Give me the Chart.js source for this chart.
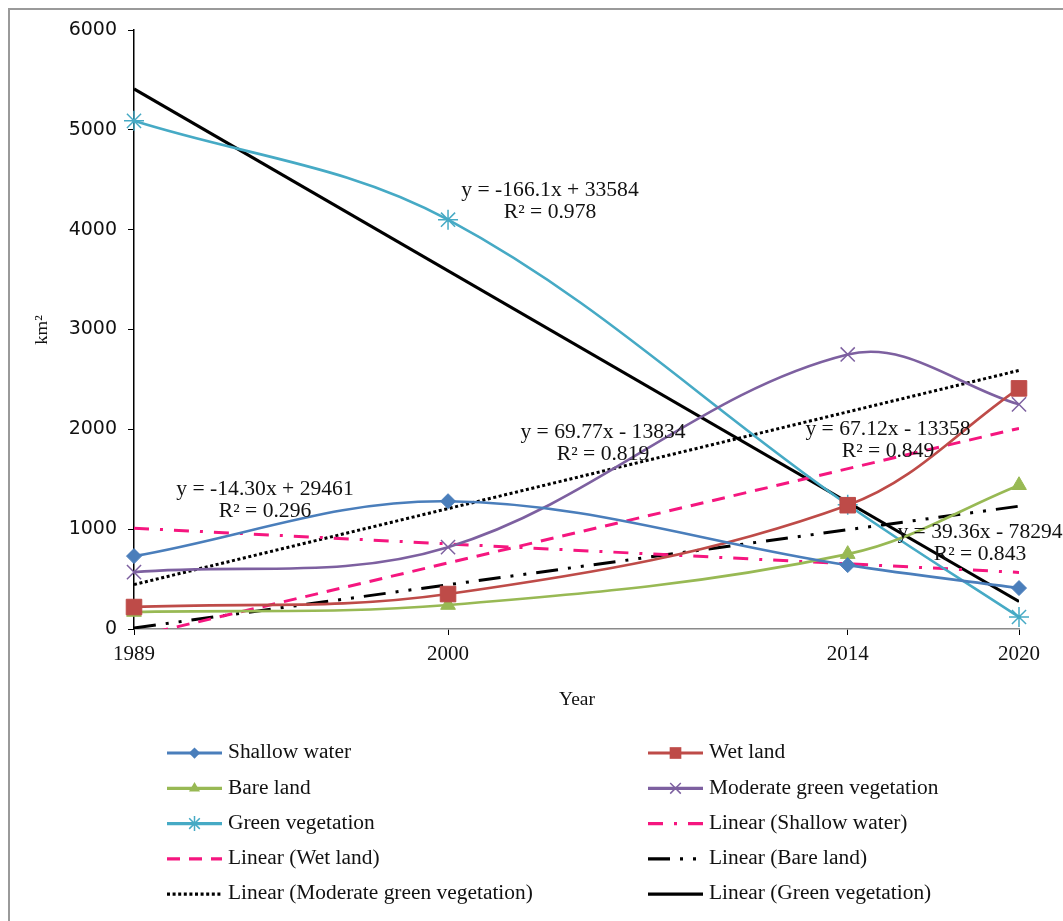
<!DOCTYPE html>
<html>
<head>
<meta charset="utf-8">
<script src="https://cdn.jsdelivr.net/npm/chart.js"></script>
<style>
html,body{margin:0;padding:0;background:#fff;}
#wrap{width:1063px;height:921px;position:relative;}
</style>
</head>
<body>
<div id="wrap"><canvas id="c" width="1063" height="921"></canvas></div>
<script>
// ---- data ----
const years = [1989, 2000, 2014, 2020];
const yTicks = [0, 1000, 2000, 3000, 4000, 5000, 6000];
const shallowWater = [730, 1280, 640, 410];
const wetLand = [220, 350, 1240, 2410];
const bareLand = [170, 240, 750, 1440];
const moderateGreen = [570, 820, 2750, 2250];
const greenVeg = [5090, 4100, 1245, 120];
const trendYears = [1989, 2020];
const linShallow = [1010, 567];
const linWet = [-80, 2010];
const linBare = [10, 1230];
const linModerate = [445, 2590];
const linGreen = [5410, 275];
const equations = [
  ["y = -166.1x + 33584", "R² = 0.978"],
  ["y = -14.30x + 29461", "R² = 0.296"],
  ["y = 69.77x - 13834", "R² = 0.819"],
  ["y = 67.12x - 13358", "R² = 0.849"],
  ["y = 39.36x - 78294", "R² = 0.843"]
];
const eqPos = [[550, 191], [265, 490], [603, 433], [888, 430], [980, 533]];

const toXY = (xs, ys) => xs.map((x, i) => ({x: x, y: ys[i]}));

const C = {
  sw: '#4a7ebb', wl: '#be4b48', bl: '#98b954', mg: '#7d60a0', gv: '#46aac5',
  pink: '#f5167f', black: '#000000'
};

function series(label, ys, color, style, r, bw) {
  return {label, data: toXY(years, ys), borderColor: color, backgroundColor: color,
    borderWidth: 2.6, tension: 0.36, pointStyle: style, pointRadius: r, pointHoverRadius: r,
    pointBorderWidth: bw, pointBackgroundColor: color, pointBorderColor: color, fill: false,
    clip: false, legendR: r * 0.75};
}
function trend(label, ys, color, dash) {
  return {label, data: toXY(trendYears, ys), borderColor: color, backgroundColor: color,
    borderWidth: 3, borderDash: dash, pointRadius: 0, tension: 0, fill: false};
}

const datasets = [
  series('Shallow water', shallowWater, C.sw, 'rectRot', 7.5, 1),
  series('Wet land', wetLand, C.wl, 'rect', 11, 1),
  series('Bare land', bareLand, C.bl, 'triangle', 8.5, 1),
  series('Moderate green vegetation', moderateGreen, C.mg, 'crossRot', 10, 1.5),
  series('Green vegetation', greenVeg, C.gv, 'star', 10, 1.5),
  trend('Linear (Shallow water)', linShallow, C.pink, [15, 11, 3, 11]),
  trend('Linear (Wet land)', linWet, C.pink, [13, 9]),
  trend('Linear (Bare land)', linBare, C.black, [22, 10, 3, 10, 3, 10]),
  trend('Linear (Moderate green vegetation)', linModerate, C.black, [3, 2.6]),
  trend('Linear (Green vegetation)', linGreen, C.black, [])
];

function drawMarker(ctx, style, x, y, r, color, bw) {
  ctx.save();
  ctx.fillStyle = color; ctx.strokeStyle = color; ctx.lineWidth = bw; ctx.setLineDash([]);
  ctx.beginPath();
  if (style === 'rectRot') {
    ctx.moveTo(x, y - r); ctx.lineTo(x + r, y); ctx.lineTo(x, y + r); ctx.lineTo(x - r, y); ctx.closePath(); ctx.fill();
  } else if (style === 'rect') {
    const s = r * Math.SQRT1_2; ctx.rect(x - s, y - s, 2 * s, 2 * s); ctx.fill();
  } else if (style === 'triangle') {
    const w = r * 0.87;
    ctx.moveTo(x, y - r); ctx.lineTo(x + w, y + r * 0.5); ctx.lineTo(x - w, y + r * 0.5); ctx.closePath(); ctx.fill();
  } else if (style === 'crossRot') {
    const o = r * Math.SQRT1_2;
    ctx.moveTo(x - o, y - o); ctx.lineTo(x + o, y + o); ctx.moveTo(x - o, y + o); ctx.lineTo(x + o, y - o); ctx.stroke();
  } else if (style === 'star') {
    const o = r * Math.SQRT1_2;
    ctx.moveTo(x - o, y - o); ctx.lineTo(x + o, y + o); ctx.moveTo(x - o, y + o); ctx.lineTo(x + o, y - o);
    ctx.moveTo(x, y - r); ctx.lineTo(x, y + r); ctx.stroke();
  }
  ctx.restore();
}

function txt(ctx, s, x, y, font, align, sx) {
  ctx.save();
  ctx.font = font; ctx.fillStyle = '#111'; ctx.textBaseline = 'middle';
  ctx.translate(x, y); ctx.scale(sx || 1, 1);
  ctx.textAlign = align || 'center';
  ctx.fillText(s, 0, 0);
  ctx.restore();
}

const overlay = {
  id: 'overlay',
  afterDraw(chart) {
    const ctx = chart.ctx;
    // frame
    ctx.save();
    ctx.strokeStyle = '#9a9a9a'; ctx.lineWidth = 2; ctx.setLineDash([]);
    ctx.beginPath(); ctx.moveTo(9, 921); ctx.lineTo(9, 9); ctx.lineTo(1063, 9); ctx.stroke();
    ctx.restore();
    // axis titles
    txt(ctx, 'Year', 577, 700, '18px "Liberation Serif"', 'center', 1.08);
    ctx.save();
    ctx.translate(43, 330); ctx.rotate(-Math.PI / 2);
    txt(ctx, 'km²', 0, 0, '17px "Liberation Serif"', 'center', 1.1);
    ctx.restore();
    // trend-line equations
    equations.forEach((eq, i) => {
      const p = eqPos[i];
      txt(ctx, eq[0], p[0], p[1], '20px "Liberation Serif"', 'center', 1.08);
      txt(ctx, eq[1], p[0], p[1] + 22, '20px "Liberation Serif"', 'center', 1.08);
    });
    // legend, two columns
    const colX = [[167, 222, 228], [648, 703, 709]];
    const rowY0 = 753, rowDy = 35.3;
    datasets.forEach((ds, i) => {
      const col = colX[i % 2];
      const y = rowY0 + Math.floor(i / 2) * rowDy;
      ctx.save();
      ctx.strokeStyle = ds.borderColor; ctx.lineWidth = 3.2;
      ctx.setLineDash(ds.borderDash || []);
      ctx.beginPath(); ctx.moveTo(col[0], y); ctx.lineTo(col[1], y); ctx.stroke();
      ctx.restore();
      if (ds.pointRadius > 0) {
        drawMarker(ctx, ds.pointStyle, (col[0] + col[1]) / 2, y, ds.legendR, ds.borderColor, ds.pointBorderWidth);
      }
      txt(ctx, ds.label, col[2], y, '20px "Liberation Serif"', 'left', 1.07);
    });
  }
};

new Chart(document.getElementById('c'), {
  type: 'line',
  data: {datasets},
  options: {
    responsive: false,
    animation: false,
    events: [],
    layout: {padding: {top: 30, right: 44, left: 0, bottom: 0}},
    plugins: {legend: {display: false}, tooltip: {enabled: false}, title: {display: false}},
    scales: {
      x: {
        type: 'linear', min: 1989, max: 2020,
        afterBuildTicks: (s) => { s.ticks = years.map(v => ({value: v})); },
        afterFit: (s) => { s.height = 292; },
        grid: {drawOnChartArea: false, drawTicks: true, tickLength: 6, color: '#000', lineWidth: 1},
        border: {display: true, color: '#8a8a8a', width: 1.5},
        ticks: {callback: (v) => String(v), color: '#111', padding: 7, maxRotation: 0,
          font: {family: '"Liberation Serif"', size: 21}}
      },
      y: {
        type: 'linear', min: 0, max: 6000,
        afterBuildTicks: (s) => { s.ticks = yTicks.map(v => ({value: v})); },
        afterFit: (s) => { s.width = 134; },
        grid: {drawOnChartArea: false, drawTicks: true, tickLength: 6, color: '#000', lineWidth: 1},
        border: {display: true, color: '#000', width: 1.5},
        ticks: {callback: (v) => String(v), color: '#111', padding: 11,
          font: {family: '"DejaVu Sans"', size: 19}}
      }
    }
  },
  plugins: [overlay]
});
</script>
</body>
</html>
